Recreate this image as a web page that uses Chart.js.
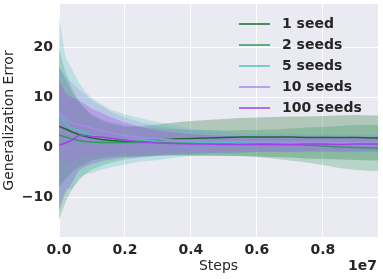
<!DOCTYPE html>
<html>
<head>
<meta charset="utf-8">
<script src="https://cdn.jsdelivr.net/npm/chart.js@4"></script>
<style>
  html, body { margin: 0; padding: 0; background: #fff; }
  #wrap { width: 383px; height: 279px; }
</style>
</head>
<body>
<div id="wrap"><canvas id="chart" width="383" height="279"></canvas></div>
<script>
// x positions (training steps)
const steps = [0, 2e5, 4e5, 6e5, 8e5, 1e6, 1.3e6, 1.6e6, 2e6, 2.5e6, 3e6, 3.5e6, 4e6, 4.5e6,
    5e6, 5.5e6, 6e6, 6.5e6, 7e6, 7.5e6, 8e6, 8.5e6, 9e6, 9.5e6, 9.67e6];

const seriesLabels = ["1 seed", "2 seeds", "5 seeds", "10 seeds", "100 seeds"];
const seriesColors = ["#1d6b2c", "#2f9a5e", "#4cc2bf", "#a58ae6", "#a43ee6"];

// mean generalization error per seed count
const mean1 = [4.1, 3.6, 3.0, 2.5, 2.1, 1.8, 1.5, 1.3, 1.1, 1.2, 1.4, 1.6, 1.7, 1.8, 1.9, 2.0, 2.0, 2.0, 2.0, 1.9, 1.9, 1.9, 1.9, 1.8, 1.8];
const mean2 = [2.4, 2.0, 1.6, 1.3, 1.1, 1.0, 0.9, 0.9, 0.9, 0.9, 1.0, 1.0, 0.9, 0.9, 0.8, 0.8, 0.7, 0.6, 0.5, 0.4, 0.2, 0.0, -0.1, -0.2, -0.2];
const mean5 = [6.5, 4.8, 3.5, 3.4, 2.8, 2.3, 2.0, 1.7, 1.5, 1.4, 1.2, 1.1, 1.0, 0.9, 0.9, 0.8, 0.9, 0.9, 0.8, 0.7, 0.8, 0.7, 0.6, 0.7, 0.7];
const mean10 = [7.0, 5.5, 4.8, 4.5, 4.2, 3.8, 3.3, 2.8, 2.3, 1.9, 1.6, 1.4, 1.3, 1.2, 1.1, 1.1, 1.0, 1.0, 1.0, 0.9, 0.9, 0.9, 0.9, 0.9, 0.9];
const mean100 = [0.4, 0.8, 1.4, 2.3, 2.3, 2.1, 2.0, 1.7, 1.4, 1.0, 0.8, 0.7, 0.6, 0.6, 0.5, 0.5, 0.5, 0.5, 0.5, 0.6, 0.6, 0.5, 0.6, 0.6, 0.6];

// spread (std) of each series, shaded as mean +/- spread
const spread1 = [12, 10, 8, 6.5, 5.5, 4.5, 3.8, 3.3, 3.0, 3.0, 3.1, 3.3, 3.5, 3.6, 3.7, 3.8, 3.9, 4.0, 4.1, 4.2, 4.3, 4.4, 4.5, 4.5, 4.5];
const spread2 = [17, 13, 10, 8, 6.5, 5.5, 4.6, 4.0, 3.4, 3.0, 2.8, 2.6, 2.5, 2.5, 2.5, 2.6, 2.7, 2.9, 3.2, 3.5, 3.8, 4.2, 4.5, 4.6, 4.6];
const spread5 = [19.5, 13, 12, 9.5, 8.2, 7.5, 6.5, 5.7, 5.0, 4.3, 3.8, 3.2, 2.7, 2.4, 2.2, 2.0, 1.9, 1.8, 1.8, 1.8, 1.8, 1.8, 1.8, 1.8, 1.8];
const spread10 = [9, 8.5, 8, 7, 6.2, 5.5, 4.8, 4.2, 3.6, 3, 2.6, 2.3, 2.1, 1.9, 1.8, 1.7, 1.6, 1.6, 1.6, 1.6, 1.6, 1.6, 1.6, 1.6, 1.6];
const spread100 = [13, 10, 8.5, 7, 6.2, 5.5, 4.8, 4.2, 3.5, 3.0, 2.5, 2.2, 2.0, 1.8, 1.7, 1.6, 1.5, 1.5, 1.5, 1.5, 1.5, 1.5, 1.5, 1.5, 1.5];

const xTicks = [0, 2e6, 4e6, 6e6, 8e6];
const yTicks = [-10, 0, 10, 20];

const means = [mean1, mean2, mean5, mean10, mean100];
const spreads = [spread1, spread2, spread5, spread10, spread100];

function hexToRgba(hex, a) {
    const n = parseInt(hex.slice(1), 16);
    return `rgba(${(n >> 16) & 255}, ${(n >> 8) & 255}, ${n & 255}, ${a})`;
}

const pts = (ys) => ys.map((y, i) => ({ x: steps[i], y }));

// bands: later series drawn over earlier ones (lower order = drawn later)
const datasets = [];
means.forEach((m, s) => {
    const sd = spreads[s];
    datasets.push({
        label: "_hi" + s,
        data: pts(m.map((v, i) => v + sd[i])),
        borderWidth: 0, pointRadius: 0, fill: false, order: 20 - s,
    });
    datasets.push({
        label: "_lo" + s,
        data: pts(m.map((v, i) => v - sd[i])),
        borderWidth: 0, pointRadius: 0, fill: "-1", order: 20 - s,
        backgroundColor: hexToRgba(seriesColors[s], 0.28),
    });
});
means.forEach((m, s) => {
    datasets.push({
        label: seriesLabels[s],
        data: pts(m),
        borderColor: seriesColors[s],
        borderWidth: 1.5, pointRadius: 0, fill: false, order: 5 - s,
    });
});

const FONT = "'DejaVu Sans', sans-serif";
const TXT = "#262626";

const plotBg = {
    id: "plotBg",
    beforeDraw(chart) {
        const { ctx, chartArea: a } = chart;
        ctx.save();
        ctx.fillStyle = "#eaeaf2";
        ctx.fillRect(a.left, a.top, a.right - a.left, a.bottom - a.top);
        ctx.restore();
    },
};

const extras = {
    id: "extras",
    afterDraw(chart) {
        const { ctx } = chart;
        ctx.save();
        // legend
        ctx.font = `bold 14px ${FONT}`;
        ctx.textBaseline = "middle";
        seriesLabels.forEach((lab, i) => {
            const y = 24 + i * 21;
            ctx.strokeStyle = seriesColors[i];
            ctx.lineWidth = 1.5;
            ctx.beginPath();
            ctx.moveTo(239, y);
            ctx.lineTo(270, y);
            ctx.stroke();
            ctx.fillStyle = TXT;
            ctx.textAlign = "left";
            ctx.fillText(lab, 282, y);
        });
        // offset text
        ctx.textAlign = "right";
        ctx.fillText("1e7", 377, 266);
        ctx.restore();
    },
};

new Chart(document.getElementById("chart"), {
    type: "line",
    data: { datasets },
    options: {
        responsive: false,
        animation: false,
        layout: { padding: { top: 4, right: 5, left: 0, bottom: 0 } },
        plugins: { legend: { display: false }, tooltip: { enabled: false } },
        scales: {
            x: {
                type: "linear",
                min: 0,
                max: 9.67e6,
                afterBuildTicks: (sc) => { sc.ticks = xTicks.map((v) => ({ value: v })); },
                afterFit: (sc) => {
                    sc.height = 42;
                    sc.paddingLeft = 0;
                    sc.paddingRight = 0;
                },
                grid: { color: "#ffffff", lineWidth: 1, drawTicks: false },
                border: { display: false },
                ticks: {
                    padding: 5,
                    color: TXT,
                    font: { family: FONT, size: 14, weight: "bold" },
                    callback: (v) => (v / 1e7).toFixed(1),
                },
                title: {
                    display: true, text: "Steps", color: TXT,
                    font: { family: FONT, size: 14 },
                    padding: { top: 0, bottom: 4.5 },
                },
            },
            y: {
                min: -18,
                max: 28.6,
                afterBuildTicks: (sc) => { sc.ticks = yTicks.map((v) => ({ value: v })); },
                afterFit: (sc) => {
                    sc.width = 59;
                    sc.paddingTop = 0;
                    sc.paddingBottom = 0;
                },
                grid: { color: "#ffffff", lineWidth: 1, drawTicks: false },
                border: { display: false },
                ticks: {
                    padding: 6,
                    color: TXT,
                    font: { family: FONT, size: 14, weight: "bold" },
                    callback: (v) => (v < 0 ? "\u2212" + Math.abs(v) : String(v)),
                },
                title: {
                    display: true, text: "Generalization Error", color: TXT,
                    font: { family: FONT, size: 14 },
                    padding: { top: 1, bottom: 0 },
                },
            },
        },
    },
    plugins: [plotBg, extras],
});
</script>
</body>
</html>
